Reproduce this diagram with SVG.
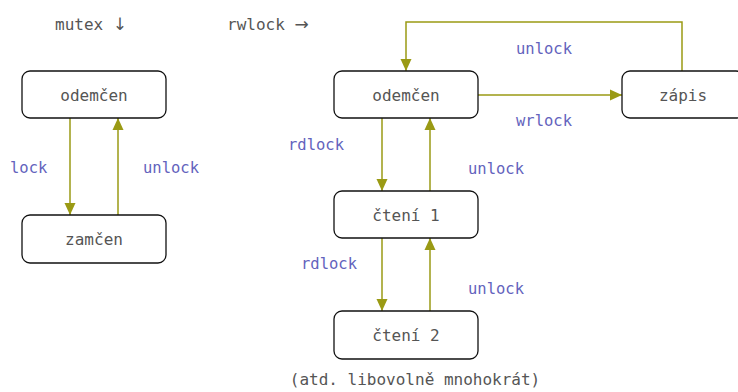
<svg xmlns="http://www.w3.org/2000/svg" width="738" height="392" viewBox="0 0 738 392">
<defs>
<marker id="ah" markerUnits="userSpaceOnUse" markerWidth="12" markerHeight="12" viewBox="0 0 12 12" refX="12" refY="6" orient="auto">
<path d="M0,0.5 L12,6 L0,11.5 Z" fill="#9a9a14"/>
</marker>
<style>
.box{fill:#fff;stroke:#111;stroke-width:1.3}
.nt{font-family:"DejaVu Sans Mono","Liberation Mono",monospace;font-size:16px;fill:#555;text-anchor:middle}
.lb{font-family:"DejaVu Sans Mono","Liberation Mono",monospace;font-size:15.5px;fill:#6363bd}
.hd{font-family:"DejaVu Sans Mono","Liberation Mono",monospace;font-size:16px;fill:#555}
.ar{font-family:"DejaVu Sans",sans-serif;font-size:17px}
.c{fill:none;stroke:#9a9a14;stroke-width:1.5}
</style>
</defs>
<rect width="738" height="392" fill="#fff"/>
<text class="hd" x="55" y="30">mutex <tspan class="ar">↓</tspan></text>
<text class="hd" x="227" y="30">rwlock <tspan class="ar">→</tspan></text>
<g id="connectors">
<line class="c" x1="70" y1="118" x2="70" y2="215" marker-end="url(#ah)"/>
<line class="c" x1="118" y1="215" x2="118" y2="118" marker-end="url(#ah)"/>
<polyline class="c" points="682,71 682,22 406,22 406,71" marker-end="url(#ah)"/>
<line class="c" x1="478" y1="95" x2="622" y2="95" marker-end="url(#ah)"/>
<line class="c" x1="382" y1="118" x2="382" y2="191" marker-end="url(#ah)"/>
<line class="c" x1="430" y1="191" x2="430" y2="118" marker-end="url(#ah)"/>
<line class="c" x1="382" y1="238" x2="382" y2="311" marker-end="url(#ah)"/>
<line class="c" x1="430" y1="311" x2="430" y2="238" marker-end="url(#ah)"/>
<text class="lb" x="10" y="173">lock</text>
<text class="lb" x="143" y="173">unlock</text>
<text class="lb" x="516" y="54">unlock</text>
<text class="lb" x="516" y="126">wrlock</text>
<text class="lb" x="288" y="150">rdlock</text>
<text class="lb" x="468" y="174">unlock</text>
<text class="lb" x="301" y="269">rdlock</text>
<text class="lb" x="468" y="294">unlock</text>
</g>
<g id="m-odemcen"><rect class="box" x="22" y="71" width="144" height="47" rx="8"/><text class="nt" x="94" y="101">odemčen</text></g>
<g id="m-zamcen"><rect class="box" x="22" y="215" width="144" height="48" rx="8"/><text class="nt" x="94" y="245">zamčen</text></g>
<g id="r-odemcen"><rect class="box" x="334" y="71" width="144" height="47" rx="8"/><text class="nt" x="406" y="101">odemčen</text></g>
<g id="r-zapis"><rect class="box" x="622" y="71" width="122" height="47" rx="8"/><text class="nt" x="683" y="101">zápis</text></g>
<g id="r-cteni1"><rect class="box" x="334" y="191" width="144" height="47" rx="8"/><text class="nt" x="406" y="221">čtení 1</text></g>
<g id="r-cteni2"><rect class="box" x="334" y="311" width="144" height="48" rx="8"/><text class="nt" x="406" y="341">čtení 2</text></g>
<text class="hd" x="415" y="385" text-anchor="middle">(atd. libovolně mnohokrát)</text>
</svg>
